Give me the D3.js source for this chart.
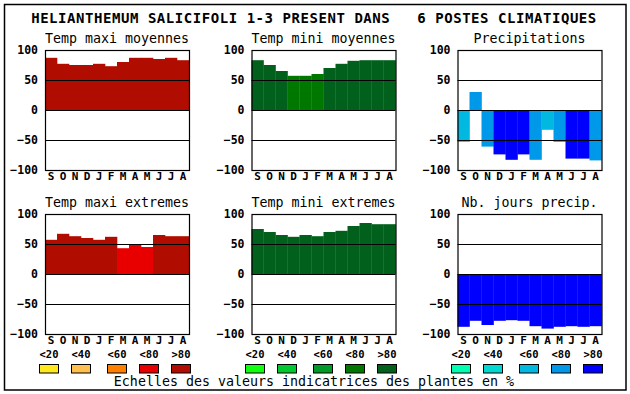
<!DOCTYPE html>
<html>
<head>
<meta charset="utf-8">
<script src="https://cdn.jsdelivr.net/npm/d3@7"></script>
<style>
  body { margin: 0; background: #fff; }
  text { font-family: "DejaVu Sans Mono", monospace; fill: #000; }
</style>
</head>
<body>
<div id="chart"></div>
<script>
const months = ["S","O","N","D","J","F","M","A","M","J","J","A"];
const yTicks = [-100, -50, 0, 50, 100];
const gridValues = [50, 0, -50];
const legendLabels = ["<20","<40","<60","<80",">80"];

const redScale = ["#ffe81c", "#ffc050", "#ff8000", "#e80000", "#b00c00"];
const greenScale = ["#10ff10", "#00c830", "#009a28", "#007800", "#00601c"];
const blueScale = ["#00ffb0", "#00d8d0", "#00b8e0", "#0098e8", "#0000ff"];

// values in %, class = index in the colour scale
const tempMaxiMoy = [87, 77, 75, 75, 77, 73, 80, 87, 87, 85, 87, 83];
const tempMaxiMoyClass = [4,4,4,4,4,4,4,4,4,4,4,4];
const tempMiniMoy = [83, 75, 65, 57, 57, 60, 70, 77, 82, 83, 83, 83];
const tempMiniMoyClass = [4,4,4,3,3,3,4,4,4,4,4,4];
const precip = [-53, 30, -61, -74, -83, -74, -83, -33, -53, -81, -81, -84];
const precipClass = [2,3,3,4,4,4,3,2,3,4,4,3];
const tempMaxiExt = [57, 67, 63, 60, 57, 62, 43, 50, 45, 65, 63, 63];
const tempMaxiExtClass = [4,4,4,4,4,4,3,3,3,4,4,4];
const tempMiniExt = [75, 70, 65, 62, 65, 63, 70, 72, 80, 85, 83, 83];
const tempMiniExtClass = [4,4,4,4,4,4,4,4,4,4,4,4];
const joursPrecip = [-88, -78, -85, -78, -77, -78, -87, -91, -88, -87, -88, -87];
const joursPrecipClass = [4,4,4,4,4,4,4,4,4,4,4,4];

const panels = [
  { title: "Temp maxi moyennes", values: tempMaxiMoy, cls: tempMaxiMoyClass, palette: redScale, col: 0, row: 0 },
  { title: "Temp mini moyennes", values: tempMiniMoy, cls: tempMiniMoyClass, palette: greenScale, col: 1, row: 0 },
  { title: "Precipitations", values: precip, cls: precipClass, palette: blueScale, col: 2, row: 0 },
  { title: "Temp maxi extremes", values: tempMaxiExt, cls: tempMaxiExtClass, palette: redScale, col: 0, row: 1 },
  { title: "Temp mini extremes", values: tempMiniExt, cls: tempMiniExtClass, palette: greenScale, col: 1, row: 1 },
  { title: "Nb. jours precip.", values: joursPrecip, cls: joursPrecipClass, palette: blueScale, col: 2, row: 1 },
];

const W = 630, H = 394;
const pw = 144, ph = 120;
const colX = [45, 251.5, 457.5];
const rowY = [50, 214];

const svg = d3.select("#chart").append("svg")
  .attr("width", W).attr("height", H);

svg.append("rect")
  .attr("x", 4.5).attr("y", 4.5).attr("width", 621.5).attr("height", 385.5)
  .attr("fill", "none").attr("stroke", "#000").attr("stroke-width", 1.5);

svg.append("text")
  .attr("x", 314).attr("y", 23)
  .attr("text-anchor", "middle")
  .style("white-space", "pre")
  .style("font-size", "14px").style("font-weight", "bold").style("letter-spacing", "0.55px")
  .text("HELIANTHEMUM SALICIFOLI 1-3 PRESENT DANS   6 POSTES CLIMATIQUES");

const x = d3.scaleBand().domain(d3.range(12)).range([0, pw]);
const y = d3.scaleLinear().domain([-100, 100]).range([ph, 0]);

panels.forEach(p => {
  const g = svg.append("g")
    .attr("transform", `translate(${colX[p.col]},${rowY[p.row]})`);

  g.append("text")
    .attr("x", pw / 2).attr("y", -7)
    .attr("text-anchor", "middle")
    .style("font-size", "13.3px")
    .text(p.title);

  g.selectAll(".bar").data(p.values).enter().append("rect")
    .attr("class", "bar")
    .attr("x", (d, i) => x(i))
    .attr("width", x.bandwidth() + 0.3)
    .attr("y", d => y(Math.max(0, d)))
    .attr("height", d => Math.abs(y(d) - y(0)))
    .attr("fill", (d, i) => p.palette[p.cls[i]]);

  g.selectAll(".grid").data(gridValues).enter().append("line")
    .attr("x1", 0).attr("x2", pw)
    .attr("y1", d => Math.round(y(d)) + 0.5).attr("y2", d => Math.round(y(d)) + 0.5)
    .attr("stroke", "#000").attr("stroke-width", 1.2);

  g.append("rect")
    .attr("x", 0.5).attr("y", 0.5).attr("width", pw).attr("height", ph)
    .attr("fill", "none").attr("stroke", "#000").attr("stroke-width", 1.2);

  const ya = g.append("g")
    .call(d3.axisLeft(y).tickValues(yTicks).tickSize(0).tickPadding(7).tickFormat(d3.format("d")));
  ya.select(".domain").remove();
  ya.selectAll("text")
    .style("font-family", "'DejaVu Sans Mono', monospace")
    .style("font-size", "11.5px").style("font-weight", "bold");

  const xa = g.append("g")
    .attr("transform", `translate(0,${ph})`)
    .call(d3.axisBottom(x).tickSize(0).tickPadding(2).tickFormat(i => months[i]));
  xa.select(".domain").remove();
  xa.selectAll("text")
    .style("font-family", "'DejaVu Sans Mono', monospace")
    .style("font-size", "11px").style("font-weight", "bold");
});

// legend
const legendStart = [39, 245, 451];
const legendOffsets = [0, 32, 68, 100, 132];
const legendPalettes = [redScale, greenScale, blueScale];

legendPalettes.forEach((pal, k) => {
  const lg = svg.append("g").attr("transform", `translate(${legendStart[k]},0)`);
  lg.selectAll("text.lab").data(legendLabels).enter().append("text")
    .attr("class", "lab")
    .attr("x", (d, i) => legendOffsets[i] + 10)
    .attr("y", 358)
    .attr("text-anchor", "middle")
    .style("font-size", "10.5px").style("font-weight", "bold")
    .text(d => d);
  lg.selectAll("rect").data(pal).enter().append("rect")
    .attr("x", (d, i) => legendOffsets[i] + 0.5)
    .attr("y", 364.5)
    .attr("width", 19).attr("height", 8.5)
    .attr("fill", d => d)
    .attr("stroke", "#000").attr("stroke-width", 1);
});

svg.append("text")
  .attr("x", 314).attr("y", 386)
  .attr("text-anchor", "middle")
  .style("font-size", "13.3px")
  .text("Echelles des valeurs indicatrices des plantes en %");
</script>
</body>
</html>
